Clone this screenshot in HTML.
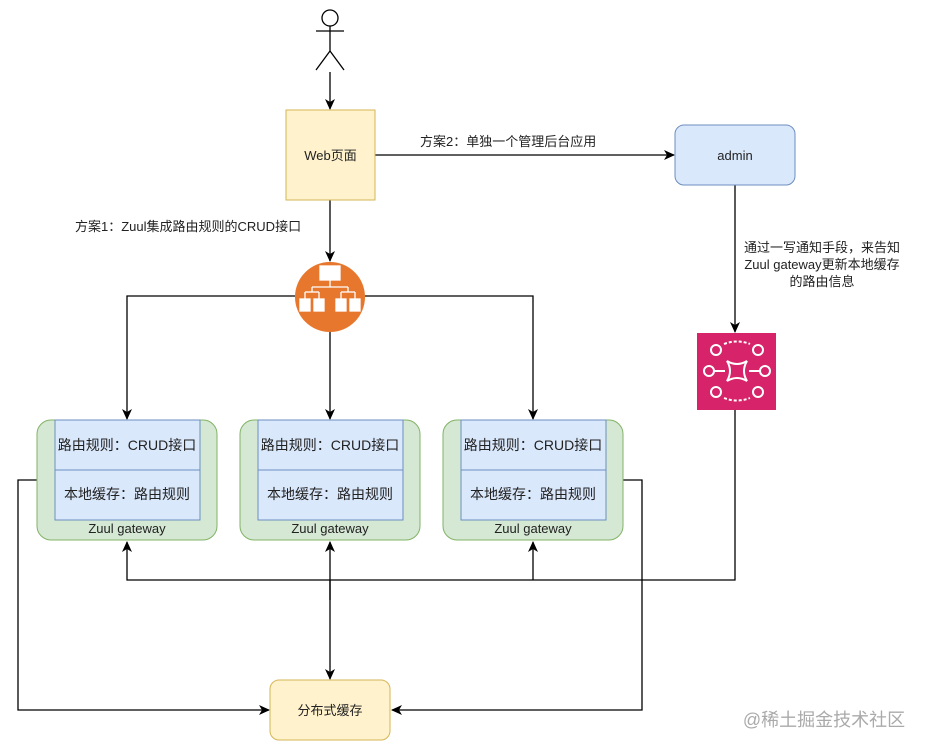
<!DOCTYPE html>
<html><head><meta charset="utf-8"><style>
html,body{margin:0;padding:0;background:#fff;}
svg{display:block;}
text{font-family:"Liberation Sans","Noto Sans CJK SC",sans-serif;font-size:13px;fill:#222;}
.g{font-size:14px;}
</style></head><body>
<svg width="926" height="751" viewBox="0 0 926 751" xmlns="http://www.w3.org/2000/svg">
<defs>
<marker id="a" markerWidth="12" markerHeight="12" refX="10" refY="6" orient="auto" markerUnits="userSpaceOnUse">
<path d="M0,1 L11,6 L0,11 L3,6 Z" fill="#000"/></marker>
</defs>
<g stroke="#000" stroke-width="1.3" fill="none">
<circle cx="330" cy="18" r="8" fill="#fff"/>
<line x1="330" y1="26" x2="330" y2="51"/>
<line x1="316" y1="31" x2="344" y2="31"/>
<line x1="330" y1="51" x2="316" y2="70"/>
<line x1="330" y1="51" x2="344" y2="70"/>
</g>
<g stroke="#000" stroke-width="1.3" fill="none">
<line x1="330" y1="72" x2="330" y2="109" marker-end="url(#a)"/>
<line x1="330" y1="200" x2="330" y2="261" marker-end="url(#a)"/>
<line x1="375" y1="155" x2="674" y2="155" marker-end="url(#a)"/>
<polyline points="295,296 127,296 127,419" marker-end="url(#a)"/>
<polyline points="365,296 533,296 533,419" marker-end="url(#a)"/>
<line x1="330" y1="332" x2="330" y2="419" marker-end="url(#a)"/>
<line x1="735" y1="185" x2="735" y2="332" marker-end="url(#a)"/>
<polyline points="735,410 735,580 127,580 127,542" marker-end="url(#a)"/>
<line x1="533" y1="580" x2="533" y2="542" marker-end="url(#a)"/>
<line x1="330" y1="600" x2="330" y2="542" marker-end="url(#a)"/>
<line x1="330" y1="580" x2="330" y2="679" marker-end="url(#a)"/>
<polyline points="37,480 18,480 18,710 269,710" marker-end="url(#a)"/>
<polyline points="623,480 642,480 642,710 392,710" marker-end="url(#a)"/>
</g>
<rect x="286" y="110" width="89" height="90" fill="#fff2cc" stroke="#d6b656"/>
<text x="330.5" y="160" text-anchor="middle">Web页面</text>
<text x="420" y="146">方案2：单独一个管理后台应用</text>
<text x="75" y="231">方案1：Zuul集成路由规则的CRUD接口</text>
<rect x="675" y="125" width="120" height="60" rx="9" fill="#dae8fc" stroke="#6c8ebf"/>
<text x="735" y="160" text-anchor="middle">admin</text>
<text x="822" y="252" text-anchor="middle">通过一写通知手段，来告知</text>
<text x="822" y="269" text-anchor="middle">Zuul gateway更新本地缓存</text>
<text x="822" y="286" text-anchor="middle">的路由信息</text>
<circle cx="330" cy="297" r="35" fill="#e8772e"/>
<g fill="#fff" stroke="#fff" stroke-width="1.3">
<rect x="320" y="266" width="20" height="14"/>
<line x1="330" y1="280" x2="330" y2="287"/>
<line x1="312" y1="287" x2="348" y2="287"/>
<line x1="312" y1="287" x2="312" y2="292"/><line x1="348" y1="287" x2="348" y2="292"/>
<line x1="305" y1="292" x2="319" y2="292"/><line x1="341" y1="292" x2="355" y2="292"/>
<line x1="305" y1="292" x2="305" y2="299"/><line x1="319" y1="292" x2="319" y2="299"/>
<line x1="341" y1="292" x2="341" y2="299"/><line x1="355" y1="292" x2="355" y2="299"/>
<rect x="300" y="299" width="10" height="12"/><rect x="314" y="299" width="10" height="12"/>
<rect x="336" y="299" width="10" height="12"/><rect x="350" y="299" width="10" height="12"/>
</g>
<rect x="697" y="333" width="79" height="77" fill="#d6236a"/>
<g stroke="#fff" stroke-width="2" fill="none">
<circle cx="716" cy="350" r="5"/><circle cx="758" cy="350" r="5"/>
<circle cx="709" cy="371" r="5"/><circle cx="765" cy="371" r="5"/>
<circle cx="716" cy="392" r="5"/><circle cx="758" cy="392" r="5"/>
<path d="M724,344 Q737,339 750,344" stroke-dasharray="3,2"/>
<path d="M724,398 Q737,403 750,398" stroke-dasharray="3,2"/>
<path d="M727,361 Q737,367 747,361 Q741,371 747,381 Q737,375 727,381 Q733,371 727,361Z"/>
<line x1="714" y1="371" x2="725" y2="371"/><line x1="749" y1="371" x2="760" y2="371"/>
</g>
<g>
<rect x="37" y="420" width="180" height="120" rx="14" fill="#d5e8d4" stroke="#82b366"/>
<rect x="55" y="420" width="145" height="50" fill="#dae8fc" stroke="#6c8ebf"/>
<rect x="55" y="470" width="145" height="50" fill="#dae8fc" stroke="#6c8ebf"/>
<text class="g" x="127" y="450" text-anchor="middle">路由规则：CRUD接口</text>
<text class="g" x="127" y="499" text-anchor="middle">本地缓存：路由规则</text>
<text x="127" y="533" text-anchor="middle">Zuul gateway</text>
</g>
<g>
<rect x="240" y="420" width="180" height="120" rx="14" fill="#d5e8d4" stroke="#82b366"/>
<rect x="258" y="420" width="145" height="50" fill="#dae8fc" stroke="#6c8ebf"/>
<rect x="258" y="470" width="145" height="50" fill="#dae8fc" stroke="#6c8ebf"/>
<text class="g" x="330" y="450" text-anchor="middle">路由规则：CRUD接口</text>
<text class="g" x="330" y="499" text-anchor="middle">本地缓存：路由规则</text>
<text x="330" y="533" text-anchor="middle">Zuul gateway</text>
</g>
<g>
<rect x="443" y="420" width="180" height="120" rx="14" fill="#d5e8d4" stroke="#82b366"/>
<rect x="461" y="420" width="145" height="50" fill="#dae8fc" stroke="#6c8ebf"/>
<rect x="461" y="470" width="145" height="50" fill="#dae8fc" stroke="#6c8ebf"/>
<text class="g" x="533" y="450" text-anchor="middle">路由规则：CRUD接口</text>
<text class="g" x="533" y="499" text-anchor="middle">本地缓存：路由规则</text>
<text x="533" y="533" text-anchor="middle">Zuul gateway</text>
</g>
<rect x="270" y="680" width="120" height="60" rx="9" fill="#fff2cc" stroke="#d6b656"/>
<text x="330" y="715" text-anchor="middle">分布式缓存</text>
<text x="824" y="726" text-anchor="middle" style="font-size:18px;fill:#aaa">@稀土掘金技术社区</text>
</svg>
</body></html>
